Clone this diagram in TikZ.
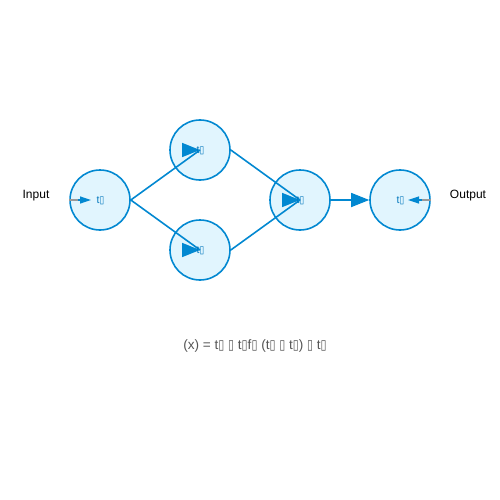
\documentclass[tikz,border=0pt]{standalone}
\usepackage{fontspec}
\setmainfont{Liberation Sans}
\newfontfamily\symfont{DejaVu Sans}
\usetikzlibrary{arrows.meta}
\definecolor{nodeline}{HTML}{0288D1}
\definecolor{nodefill}{HTML}{E1F5FE}
\definecolor{labcol}{HTML}{0277BD}
\definecolor{formcol}{HTML}{555555}
\newcommand{\tf}{{\symfont\scalebox{0.8}[1]{▯}}}
\tikzset{
  neuron/.style={circle, draw=nodeline, fill=nodefill, line width=1.6pt, minimum size=60pt, inner sep=0pt,
    font=\fontsize{10}{12}\selectfont, text=labcol},
  conn/.style={draw=nodeline, line width=1.6pt},
  bighead/.style={-{Triangle[length=18pt,width=14pt]}, draw=nodeline, fill=nodeline, line width=1.6pt},
  smallhead/.style={-{Triangle[length=11pt,width=7pt]}, draw=nodeline, fill=nodeline, line width=1.2pt},
  stub/.style={draw=gray!80, line width=1.6pt},
  plain/.style={font=\fontsize{12}{14}\selectfont, text=black},
  lab/.style={font=\fontsize{10.5}{12}\selectfont, text=labcol},
}
\begin{document}
\begin{tikzpicture}[x=1pt,y=-1pt]
\useasboundingbox (0,0) rectangle (500,500);
\node[neuron] (n1) at (100,200) {};
\node[neuron] (n2) at (200,150) {};
\node[neuron] (n3) at (200,250) {};
\node[neuron] (n4) at (300,200) {};
\node[neuron] (n5) at (400,200) {};
\node[plain] (inp) at (36,196) {Input};
\node[plain] (outp) at (468,196) {Output};
% connectors
\draw[conn] (n1.east) -- (n2.center);
\draw[conn] (n1.east) -- (n3.center);
\draw[conn] (n2.east) -- (n4.center);
\draw[conn] (n3.east) -- (n4.center);
\draw[bighead] ([xshift=-17pt]n2.center) -- (n2.center);
\draw[bighead] ([xshift=-17pt]n3.center) -- (n3.center);
\draw[bighead] ([xshift=-17pt]n4.center) -- (n4.center);
\draw[bighead] (n4.east) -- (n5.west);
% input / output stubs
\coordinate (inend) at (91,200);
\coordinate (outend) at (408,200);
\draw[stub] (n1.west) -- ([xshift=10pt]n1.west);
\draw[smallhead] ([xshift=9pt]n1.west) -- (inend);
\draw[stub] (n5.east) -- ([xshift=-10pt]n5.east);
\draw[smallhead] ([xshift=-9pt]n5.east) -- (outend);
% labels
\node[lab] (l1) at (100.5,201) {t\tf};
\node[lab] (l2) at (200.5,151) {t\tf};
\node[lab] (l3) at (200.5,251) {t\tf};
\node[lab] (l4) at (300.5,201) {t\tf};
\node[lab] (l5) at (400.5,201) {t\tf};
\node[font=\fontsize{13.6}{16}\selectfont, text=formcol] (form) at (255,346) {(x) = t\tf{} \tf{} t\tf f\tf{} (t\tf{} \tf{} t\tf) \tf{} t\tf};
\end{tikzpicture}
\end{document}
